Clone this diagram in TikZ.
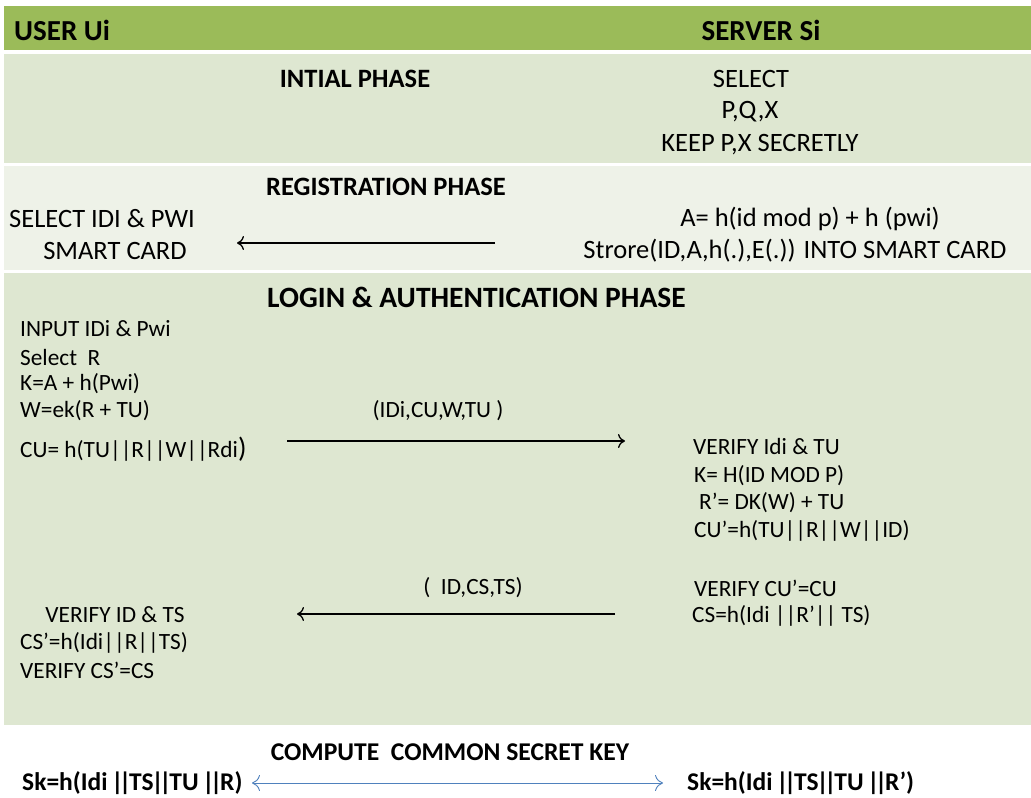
\documentclass[tikz,border=0pt]{standalone}
\usepackage{fontspec}
\setmainfont{Carlito}
\usetikzlibrary{arrows.meta}
\definecolor{headgreen}{HTML}{9BBB59}
\definecolor{rowA}{HTML}{DEE7D1}
\definecolor{rowB}{HTML}{EEF2E8}
\definecolor{keyblue}{HTML}{4F81BD}
% two bars set close together
\newcommand{\dbar}{\kern-2pt|\kern-4.5pt|\kern-2pt}
\tikzset{
  txt/.style={inner sep=0pt, font=\fontsize{23.3}{27}\selectfont},
  regtxt/.style={inner sep=0pt, font=\fontsize{26.5}{30}\selectfont},
  ttl/.style={inner sep=0pt, font=\fontsize{26.5}{30}\selectfont\bfseries},
  headtxt/.style={inner sep=0pt, font=\fontsize{29}{32}\selectfont\bfseries},
  keytxt/.style={inner sep=0pt, font=\fontsize{25.5}{29}\selectfont\bfseries},
  msg/.style={line width=1.3pt, -{To[length=7pt,width=14pt]}},
  keyarrow/.style={line width=0.9pt, keyblue, {To[length=8pt,width=16pt]}-{To[length=8pt,width=16pt]}}
}
\begin{document}
\begin{tikzpicture}[x=1pt,y=-1pt]
\useasboundingbox (0,0) rectangle (1031,798);
\fill[white] (0,0) rectangle (1031,798);
% table bands
\fill[headgreen] (4,6) rectangle (1031,50);
\fill[rowA] (4,54) rectangle (1031,163);
\fill[rowB] (4,166) rectangle (1031,270);
\fill[rowA] (4,273) rectangle (1031,725);

% header
\node[headtxt, anchor=west] (user) at (14,30) {USER Ui};
\node[headtxt] (server) at (761,30) {SERVER Si};

% initial phase
\node[ttl] (initial) at (355,79) {INTIAL PHASE};
\node[regtxt] (sel) at (751,79) {SELECT};
\node[regtxt] (pqx) at (750,112) {P,Q,X};
\node[regtxt] (keep) at (760,145) {KEEP P,X SECRETLY};

% registration phase
\node[ttl] (reg) at (386,187) {REGISTRATION PHASE};
\node[regtxt, anchor=west] (selid) at (9,219) {SELECT IDI \& PWI};
\node[regtxt] (card) at (115,251) {SMART CARD};
\node[regtxt] (afun) at (810,219) {A= h(id mod p) + h (pwi)};
\node[regtxt] (store) at (795,251) {Strore(ID,A,h(.),E(.)) INTO SMART CARD};
\coordinate (r1) at (495,243);
\coordinate (r2) at (237,243);
\draw[msg] (r1) -- (r2);

% login and authentication phase
\node[ttl, anchor=west, font=\fontsize{29.5}{33}\selectfont\bfseries] (login) at (267,297) {LOGIN \& AUTHENTICATION PHASE};
\node[txt, anchor=west] (u1) at (20,329) {INPUT IDi \& Pwi};
\node[txt, anchor=west] (u2) at (20,357) {Select\ \ R};
\node[txt, anchor=west] (u3) at (20,384) {K=A + h(Pwi)};
\node[txt, anchor=west] (u4) at (20,411) {W=ek(R + TU)};
\node[txt, anchor=west] (u5) at (20,449) {CU= h(TU||R||W||Rdi{\fontsize{28}{28}\selectfont)}};
\node[txt] (m1) at (438,411) {(IDi,CU,W,TU )};
\coordinate (a1) at (287,441);
\coordinate (a2) at (625,441);
\draw[msg] (a1) -- (a2);

\node[txt, anchor=west] (s1) at (693,446) {VERIFY Idi \& TU};
\node[txt, anchor=west] (s2) at (694,476) {K= H(ID MOD P)};
\node[txt, anchor=west] (s3) at (699,503) {R’= DK(W) + TU};
\node[txt, anchor=west] (s4) at (694,531) {CU’=h(TU||R||W||ID)};
\node[txt, anchor=west] (s5) at (694,588) {VERIFY CU’=CU};
\node[txt, anchor=west] (s6) at (692,616) {CS=h(Idi ||R’|| TS)};

\node[txt] (m2) at (473,588) {(\ \ ID,CS,TS)};
\coordinate (b1) at (615,614);
\coordinate (b2) at (297,614);
\draw[msg] (b1) -- (b2);

\node[txt] (v1) at (115,615) {VERIFY ID \& TS};
\node[txt, anchor=west] (v2) at (20,643) {CS’=h(Idi||R||TS)};
\node[txt, anchor=west] (v3) at (20,670) {VERIFY CS’=CS};

% common secret key
\node[ttl, font=\fontsize{25.6}{29}\selectfont\bfseries] (common) at (450,752) {COMPUTE\ \ COMMON SECRET KEY};
\node[keytxt, anchor=west] (sku) at (22,783) {Sk=h(Idi \dbar TS\dbar TU \dbar R)};
\node[keytxt, anchor=west] (sks) at (687,783) {Sk=h(Idi \dbar TS\dbar TU \dbar R’)};
\coordinate (k1) at (252,783);
\coordinate (k2) at (663,783);
\draw[keyarrow] (k1) -- (k2);
\end{tikzpicture}
\end{document}
